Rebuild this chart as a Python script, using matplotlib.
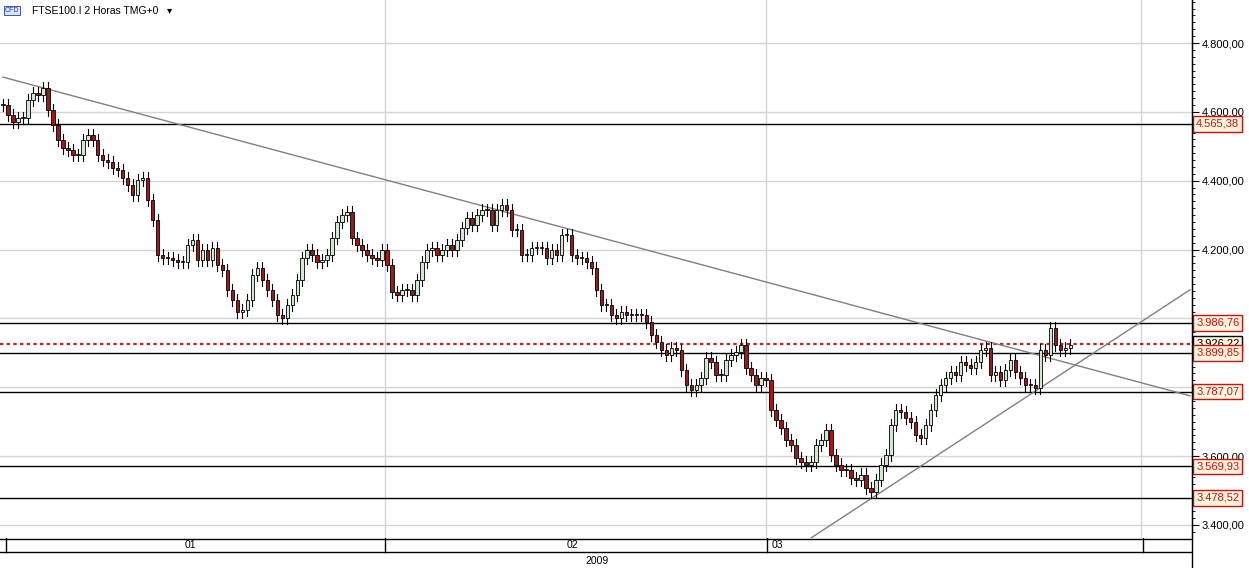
import matplotlib
matplotlib.use('Agg')
import matplotlib.pyplot as plt
from matplotlib.patches import Rectangle
import numpy as np

plt.rcParams['font.family'] = ['Liberation Sans', 'DejaVu Sans']

# ── DATOS ───────────────────────────────────────────────
# cierres (velas de 2 horas)
cierres = [
    4620, 4591, 4571, 4582, 4582, 4634, 4655, 4649, 4669, 4605,
    4562, 4518, 4495, 4489, 4475, 4475, 4518, 4533, 4518, 4475,
    4460, 4454, 4437, 4431, 4408, 4388, 4359, 4402, 4408, 4344,
    4286, 4184, 4176, 4176, 4170, 4164, 4164, 4213, 4228, 4170,
    4199, 4170, 4205, 4155, 4141, 4083, 4054, 4019, 4025, 4054,
    4126, 4147, 4112, 4083, 4054, 4010, 4001, 4039, 4068, 4112,
    4176, 4199, 4184, 4164, 4170, 4184, 4234, 4280, 4301, 4309,
    4234, 4213, 4199, 4184, 4176, 4170, 4199, 4155, 4077, 4068,
    4083, 4083, 4068, 4112, 4164, 4199, 4205, 4184, 4199, 4213,
    4199, 4228, 4263, 4292, 4271, 4301, 4315, 4315, 4271, 4315,
    4330, 4315, 4257, 4257, 4184, 4184, 4205, 4205, 4205, 4176,
    4199, 4184, 4242, 4242, 4184, 4176, 4176, 4164, 4147, 4083,
    4039, 4039, 4010, 4001, 4019, 4010, 4010, 4010, 4010, 3990,
    3952, 3932, 3908, 3894, 3914, 3908, 3850, 3807, 3792, 3807,
    3827, 3885, 3874, 3836, 3836, 3879, 3894, 3903, 3923, 3856,
    3836, 3807, 3827, 3821, 3734, 3705, 3682, 3647, 3633, 3595,
    3583, 3575, 3583, 3633, 3647, 3676, 3604, 3575, 3560, 3560,
    3537, 3531, 3546, 3508, 3496, 3531, 3575, 3604, 3691, 3734,
    3728, 3711, 3699, 3662, 3653, 3691, 3734, 3778, 3807, 3827,
    3845, 3836, 3874, 3865, 3856, 3874, 3908, 3914, 3836, 3845,
    3821, 3850, 3879, 3845, 3827, 3807, 3807, 3798, 3908, 3894,
    3972, 3923, 3908, 3914, 3923,
]
mecha = 18  # tamaño de la mecha (aprox.)

niveles = [4565.38, 3986.76, 3899.85, 3787.07, 3569.93, 3478.52]
precio_actual = 3926.22
ticks_y = [3400, 3600, 4200, 4400, 4600, 4800]
meses = ['01', '02', '03']
anio = '2009'

# líneas de tendencia (índice de vela, precio)
tend_baja = [(0, 4701), (238, 3775)]
tend_alta = [(162, 3362), (238, 4083)]

VERDE = '#cfe8cf'
ROJO = '#a01818'
ROJO_TXT = '#d01010'

# ── FIGURA ──────────────────────────────────────────────
fig = plt.figure(figsize=(12.49, 5.68), dpi=100)
ax = fig.add_axes([0, 30 / 568, 1192 / 1249, 538 / 568])
ax.set_xlim(-0.6, 238.4)
ax.set_ylim(3362, 4925)

for y in [3400, 3600, 3800, 4000, 4200, 4400, 4600, 4800]:
    ax.axhline(y, color='#d4d4d4', lw=1, zorder=0)
for xv in [76.5, 152.9, 228.1]:
    ax.axvline(xv, color='#d4d4d4', lw=1, zorder=0)

# velas
apertura = [cierres[0]] + cierres[:-1]
for i, (o, c) in enumerate(zip(apertura, cierres)):
    hi = max(o, c) + mecha
    lo = min(o, c) - mecha
    ax.plot([i, i], [lo, hi], color='black', lw=0.8, zorder=2)
    alto = max(abs(c - o), 2)
    ax.add_patch(Rectangle((i - 0.35, min(o, c)), 0.7, alto,
                           facecolor=VERDE if c >= o else ROJO,
                           edgecolor='black', lw=0.6, zorder=3))

for n in niveles:
    ax.axhline(n, color='black', lw=1, zorder=1)
ax.axhline(precio_actual, color='#cc2020', lw=1.6, ls=(0, (1.5, 1.5)), zorder=1)

(x0, y0), (x1, y1) = tend_baja
ax.plot([x0, x1], [y0, y1], color='#808080', lw=1, zorder=1)
(x0, y0), (x1, y1) = tend_alta
ax.plot([x0, x1], [y0, y1], color='#808080', lw=1, zorder=1)

def fmt(v):
    return f'{v:,.2f}'.replace(',', 'X').replace('.', ',').replace('X', '.')

ax.set_xticks([])
ax.yaxis.tick_right()
ax.set_yticks(ticks_y)
ax.set_yticklabels([fmt(t) for t in ticks_y])
ax.set_yticks(np.arange(3380, 4925, 20), minor=True)
ax.tick_params(axis='y', which='major', length=5, labelsize=8, pad=2)
ax.tick_params(axis='y', which='minor', length=2)
for s in ['top', 'left', 'bottom']:
    ax.spines[s].set_visible(False)

def etiqueta(v, color_borde, color_txt):
    ax.annotate(fmt(v), xy=(1, v), xycoords=('axes fraction', 'data'),
                xytext=(3, 0), textcoords='offset points', va='center',
                fontsize=8, color=color_txt,
                bbox=dict(boxstyle='square,pad=0.25', fc='#fff4dc', ec=color_borde, lw=1))

etiqueta(precio_actual, 'black', 'black')
for n in niveles:
    etiqueta(n, '#d01010', ROJO_TXT)

fig.text(0.004, 0.988, 'CFD', fontsize=5, color='#1a3fa0', va='top',
         bbox=dict(boxstyle='square,pad=0.1', fc='#dde4ff', ec='#1a3fa0', lw=0.6))
fig.text(0.026, 0.99, 'FTSE100.I 2 Horas TMG+0   \u25be', fontsize=7.5, va='top')

# ── BARRA INFERIOR DE FECHAS ────────────────────────────
axb = fig.add_axes([0, 0, 1192 / 1249, 30 / 568])
axb.set_xlim(0, 1192)
axb.set_ylim(0, 30)
axb.axhline(16, color='black', lw=1)
axb.axhline(29.5, color='black', lw=1)
for xv in [6, 385, 767, 1143]:
    axb.plot([xv, xv], [16, 30], color='black', lw=1)
for xv, m in zip([190, 572, 772], meses):
    axb.text(xv, 23, m, fontsize=7.5, va='center', ha='center' if xv < 700 else 'left')
axb.text(597, 7, anio, fontsize=7.5, va='center', ha='center')
axb.axis('off')
fig.add_artist(plt.Line2D([1192 / 1249] * 2, [0, 1], color='black', lw=1))

fig.savefig('out.png', dpi=100)
